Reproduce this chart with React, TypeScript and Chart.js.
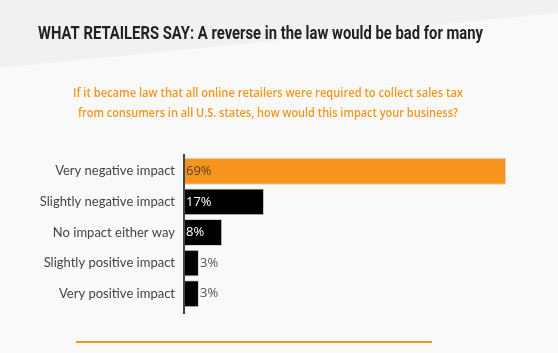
import { useEffect, useRef } from 'react';
import { Chart, registerables } from 'chart.js';

Chart.register(...registerables);

const categories = [
  'Very negative impact',
  'Slightly negative impact',
  'No impact either way',
  'Slightly positive impact',
  'Very positive impact',
];
const values = [69, 17, 8, 3, 3];
const barColors = ['#f7941d', '#000000', '#000000', '#000000', '#000000'];
const titleText = 'WHAT RETAILERS SAY: A reverse in the law would be bad for many';
const subtitleLines = [
  'If it became law that all online retailers were required to collect sales tax',
  'from consumers in all U.S. states, how would this impact your business?',
];

const drawFitted = (ctx: CanvasRenderingContext2D, text: string, cx: number, baseline: number, font: string, color: string, width: number) => {
  ctx.save();
  ctx.font = font;
  ctx.fillStyle = color;
  ctx.textBaseline = 'alphabetic';
  ctx.textAlign = 'center';
  const w = ctx.measureText(text).width;
  const s = width / w;
  ctx.translate(cx, baseline);
  ctx.scale(s, 1);
  ctx.fillText(text, 0, 0);
  ctx.restore();
};

const decorPlugin = {
  id: 'decor',
  beforeDraw(chart: any) {
    const { ctx, width, height } = chart;
    ctx.save();
    ctx.fillStyle = '#f9f9f9';
    ctx.fillRect(0, 0, width, height);
    ctx.fillStyle = '#f1f1f1';
    ctx.beginPath();
    ctx.moveTo(0, 0);
    ctx.lineTo(width, 0);
    ctx.lineTo(width, 13);
    ctx.lineTo(0, 68);
    ctx.closePath();
    ctx.fill();
    ctx.restore();

    drawFitted(ctx, titleText, 260.5, 39, 'bold 18px "Roboto", sans-serif', '#222222', 445);
    drawFitted(ctx, subtitleLines[0], 268, 97, '600 13px "Open Sans", sans-serif', '#f7941d', 390);
    drawFitted(ctx, subtitleLines[1], 268, 117, '600 13px "Open Sans", sans-serif', '#f7941d', 380);

    ctx.save();
    ctx.strokeStyle = '#f7941d';
    ctx.lineWidth = 2;
    ctx.beginPath();
    ctx.moveTo(76, 342);
    ctx.lineTo(432, 342);
    ctx.stroke();
    ctx.restore();
  },
  afterDatasetsDraw(chart: any) {
    const { ctx, chartArea } = chart;
    const xs = chart.scales.x;
    const x0 = xs.getPixelForValue(0);
    ctx.save();
    ctx.strokeStyle = '#444444';
    ctx.lineWidth = 2;
    ctx.beginPath();
    ctx.moveTo(x0 - 1, chartArea.top - 2);
    ctx.lineTo(x0 - 1, chartArea.bottom + 5);
    ctx.stroke();

    const meta = chart.getDatasetMeta(0);
    ctx.font = '13px "Open Sans", sans-serif';
    ctx.textBaseline = 'middle';
    ctx.textAlign = 'left';
    meta.data.forEach((el: any, i: number) => {
      const v = values[i];
      const label = v + '%';
      if (v >= 5) {
        ctx.fillStyle = i === 0 ? '#5c4322' : '#ffffff';
        ctx.fillText(label, el.base + 1, el.y);
      } else {
        ctx.fillStyle = '#555555';
        ctx.fillText(label, el.x + 1, el.y);
      }
    });
    ctx.restore();
  },
};

export default function App() {
  const ref = useRef<HTMLCanvasElement>(null);
  useEffect(() => {
    if (!ref.current) return;
    const chart = new Chart(ref.current, {
      type: 'bar',
      data: {
        labels: categories,
        datasets: [
          {
            data: values,
            backgroundColor: barColors,
            borderColor: '#d4d4d4',
            borderWidth: 1,
            barPercentage: 0.88,
            categoryPercentage: 1,
          },
        ],
      },
      options: {
        indexAxis: 'y',
        animation: false,
        responsive: false,
        maintainAspectRatio: false,
        layout: { padding: { left: 0, top: 156, bottom: 44, right: 24 } },
        plugins: {
          legend: { display: false },
          title: { display: false },
          tooltip: { enabled: false },
        },
        scales: {
          x: {
            min: 0,
            max: 75,
            display: false,
          },
          y: {
            grid: { display: false, drawTicks: false },
            border: { display: false },
            afterFit(scale: any) {
              scale.width = 185;
            },
            ticks: {
              padding: 10,
              color: '#444444',
              font: { family: 'Lato', size: 13 },
            },
          },
        },
      },
      plugins: [decorPlugin],
    });
    return () => chart.destroy();
  }, []);
  return (
    <div style={{ position: 'absolute', left: 0, top: 0, width: 558, height: 353 }}>
      <canvas ref={ref} width={558} height={353} style={{ display: 'block' }} />
    </div>
  );
}
